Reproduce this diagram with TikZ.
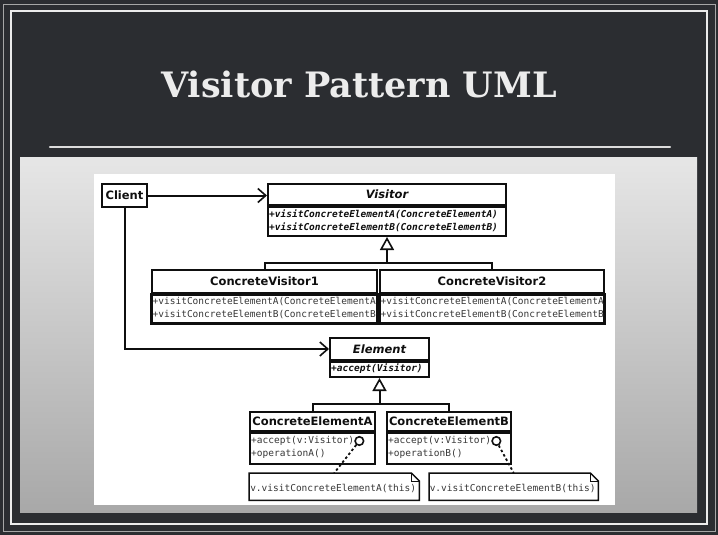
\documentclass[tikz,border=0pt]{standalone}
\usepackage{fontspec}
\setmainfont{DejaVu Sans}
\setmonofont{DejaVu Sans Mono}
\newfontfamily\slidefont{DejaVu Serif}
\usetikzlibrary{arrows.meta,calc}

\definecolor{slate}{RGB}{43,45,49}
\definecolor{chalk}{RGB}{236,236,236}
\definecolor{panelTop}{RGB}{230,230,230}
\definecolor{panelMid}{RGB}{200,200,200}
\definecolor{panelBot}{RGB}{168,168,168}
\definecolor{ink}{RGB}{15,15,15}
\definecolor{softink}{RGB}{55,55,55}

\tikzset{
  hdr/.style={draw=ink, line width=2pt, inner sep=0pt, fill=white,
    font=\bfseries\fontsize{11.5}{12}\selectfont, text=ink},
  bodybox/.style={draw=ink, line width=2pt, inner sep=0pt, fill=white},
  meth/.style={inner sep=0pt, anchor=west, text=softink,
    font=\ttfamily\fontsize{9.5}{10}\selectfont},
  absmeth/.style={meth, text=ink,
    font=\ttfamily\bfseries\itshape\fontsize{9.5}{10}\selectfont},
  conn/.style={draw=ink, line width=2pt},
  navarrow/.style={conn, -{Straight Barb[length=8pt,width=14pt,line width=1.6pt]}},
  genarrow/.style={conn, -{Triangle[open,length=13pt,width=14pt,line width=1.6pt]}},
  lolly/.style={circle, draw=ink, fill=white, line width=1.6pt, inner sep=0pt, minimum size=8.5pt},
  dotline/.style={draw=ink, line width=1.8pt, dash pattern=on 2.5pt off 2.5pt},
  noteframe/.style={draw=ink, line width=1.5pt, fill=white},
  notetext/.style={inner sep=0pt, text=softink, font=\ttfamily\fontsize{9.5}{10}\selectfont}
}

\begin{document}
\begin{tikzpicture}[x=1pt,y=-1pt]
\useasboundingbox (0,0) rectangle (718,535);

% slide background and chalk frame
\fill[slate] (0,0) rectangle (718,535);
\draw[gray!70, line width=0.8pt] (3,4) rectangle (715,531);
\draw[chalk, line width=1.4pt] (11,11) rectangle (707,524);

% title and rule
\node[anchor=base, text=chalk, font=\slidefont\bfseries\fontsize{35}{40}\selectfont] (title) at (359,97) {Visitor Pattern UML};
\draw[chalk!85!gray, line width=2.2pt, line cap=round] (50,147) -- (670,147);

% picture panel
\shade[top color=panelTop, middle color=panelMid, bottom color=panelBot] (20,157) rectangle (697,512);
\fill[white] (94,174) rectangle (615,505);

% Client
\node[hdr, minimum width=45pt, minimum height=23pt, anchor=north west] (client) at (101,183) {Client};

% Visitor
\node[hdr, minimum width=238pt, minimum height=21pt, anchor=north west] (visitor) at (267,183) {\itshape Visitor};
\node[bodybox, minimum width=238pt, minimum height=29pt, anchor=north west] (visitorB) at (visitor.south west) {};
\node[absmeth] (vm1) at ($(visitorB.north west)+(2,8)$) {+visitConcreteElementA(ConcreteElementA)};
\node[absmeth] (vm2) at ($(visitorB.north west)+(2,21)$) {+visitConcreteElementB(ConcreteElementB)};

% ConcreteVisitor1
\node[hdr, minimum width=225pt, minimum height=23pt, anchor=north west] (cv1) at (151,269) {ConcreteVisitor1};
\node[bodybox, minimum width=225pt, minimum height=28pt, anchor=north west] (cv1B) at (cv1.south west) {};
\begin{scope}
  \clip (cv1B.north west) rectangle (cv1B.south east);
  \node[meth] (cv1m1) at ($(cv1B.north west)+(1.5,7.5)$) {+visitConcreteElementA(ConcreteElementA)};
  \node[meth] (cv1m2) at ($(cv1B.north west)+(1.5,20.5)$) {+visitConcreteElementB(ConcreteElementB)};
\end{scope}
\draw[conn] (cv1B.north west) rectangle (cv1B.south east);

% ConcreteVisitor2
\node[hdr, minimum width=224pt, minimum height=23pt, anchor=north west] (cv2) at (379,269) {ConcreteVisitor2};
\node[bodybox, minimum width=224pt, minimum height=28pt, anchor=north west] (cv2B) at (cv2.south west) {};
\begin{scope}
  \clip (cv2B.north west) rectangle (cv2B.south east);
  \node[meth] (cv2m1) at ($(cv2B.north west)+(1.5,7.5)$) {+visitConcreteElementA(ConcreteElementA)};
  \node[meth] (cv2m2) at ($(cv2B.north west)+(1.5,20.5)$) {+visitConcreteElementB(ConcreteElementB)};
\end{scope}
\draw[conn] (cv2B.north west) rectangle (cv2B.south east);

% Element
\node[hdr, minimum width=99pt, minimum height=22pt, anchor=north west] (element) at (329,337) {\itshape Element};
\node[bodybox, minimum width=99pt, minimum height=15pt, anchor=north west] (elementB) at (element.south west) {};
\node[absmeth] (em1) at ($(elementB.north west)+(2,7.5)$) {+accept(Visitor)};

% ConcreteElementA
\node[hdr, minimum width=125pt, minimum height=19pt, anchor=north west] (cea) at (249,411) {ConcreteElementA};
\node[bodybox, minimum width=125pt, minimum height=31pt, anchor=north west] (ceaB) at (cea.south west) {};
\node[meth] (accA) at ($(ceaB.north west)+(2,9)$) {+accept(v:Visitor)};
\node[meth] (opA) at ($(ceaB.north west)+(2,22)$) {+operationA()};
\node[lolly] (lollA) at ($(accA.east)+(5,0)$) {};

% ConcreteElementB
\node[hdr, minimum width=124pt, minimum height=19pt, anchor=north west] (ceb) at (386,411) {ConcreteElementB};
\node[bodybox, minimum width=124pt, minimum height=31pt, anchor=north west] (cebB) at (ceb.south west) {};
\node[meth] (accB) at ($(cebB.north west)+(2,9)$) {+accept(v:Visitor)};
\node[meth] (opB) at ($(cebB.north west)+(2,22)$) {+operationB()};
\node[lolly] (lollB) at ($(accB.east)+(5,0)$) {};

% notes with folded corner
\node[minimum width=170pt, minimum height=27pt, inner sep=0pt, anchor=north west] (noteA) at (249,473) {};
\draw[noteframe] (noteA.south west) -- (noteA.north west) -- ($(noteA.north east)+(-8,0)$)
  -- ($(noteA.north east)+(0,8)$) -- (noteA.south east) -- cycle;
\draw[ink, line width=1pt] ($(noteA.north east)+(-8,0)$) |- ($(noteA.north east)+(0,8)$);
\node[notetext] (noteAt) at ($(noteA.center)+(-1,1.5)$) {v.visitConcreteElementA(this)};

\node[minimum width=169pt, minimum height=27pt, inner sep=0pt, anchor=north west] (noteB) at (429,473) {};
\draw[noteframe] (noteB.south west) -- (noteB.north west) -- ($(noteB.north east)+(-8,0)$)
  -- ($(noteB.north east)+(0,8)$) -- (noteB.south east) -- cycle;
\draw[ink, line width=1pt] ($(noteB.north east)+(-8,0)$) |- ($(noteB.north east)+(0,8)$);
\node[notetext] (noteBt) at ($(noteB.center)+(-1,1.5)$) {v.visitConcreteElementB(this)};

% associations from Client
\draw[navarrow] (client.east) -- (client.east -| visitor.west);
\draw[navarrow] (client.south) |- (element.west);

% generalisation trees
\coordinate (vjoin) at ($(visitorB.south)+(0,26)$);
\draw[conn] (cv1.north) |- (vjoin) -| (cv2.north);
\draw[genarrow] (vjoin) -- (visitorB.south);

\coordinate (ejoin) at ($(elementB.south)+(0,26)$);
\draw[conn] (cea.north) |- (ejoin) -| (ceb.north);
\draw[genarrow] (ejoin) -- (elementB.south);

% note anchors
\draw[dotline] (lollA) -- (noteA.north);
\draw[dotline] (lollB) -- (noteB.north);
\end{tikzpicture}
\end{document}
